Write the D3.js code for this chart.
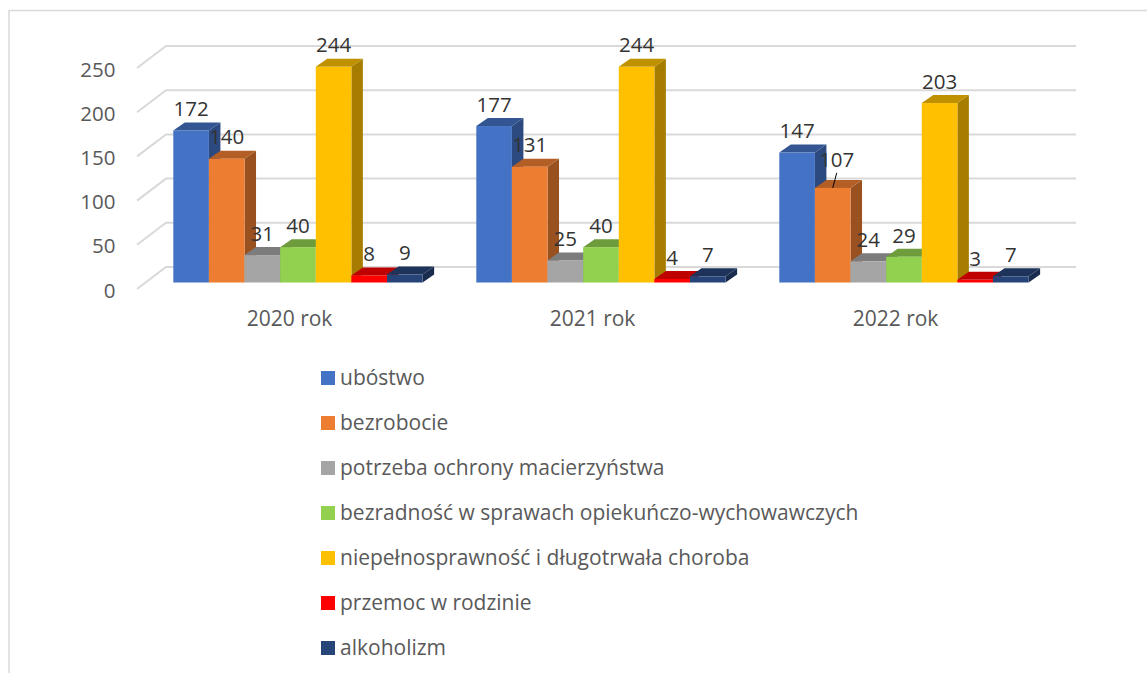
<!DOCTYPE html>
<html lang="pl">
<head>
  <meta charset="UTF-8">
  <title>Powody przyznania pomocy</title>
  <style>
    body { margin: 0; background: #fff; }
    svg { display: block; font-family: "Open Sans", sans-serif; }
  </style>
</head>
<body>
  <div id="chart"></div>

  <script src="https://d3js.org/d3.v7.min.js"></script>
  <script>
    // Values
    const years = ['2020 rok', '2021 rok', '2022 rok'];
    const seriesNames = [
      'ubóstwo',
      'bezrobocie',
      'potrzeba ochrony macierzyństwa',
      'bezradność w sprawach opiekuńczo-wychowawczych',
      'niepełnosprawność i długotrwała choroba',
      'przemoc w rodzinie',
      'alkoholizm'
    ];
    const ubostwo = [172, 177, 147];
    const bezrobocie = [140, 131, 107];
    const macierzynstwo = [31, 25, 24];
    const bezradnosc = [40, 40, 29];
    const niepelnosprawnosc = [244, 244, 203];
    const przemoc = [8, 4, 3];
    const alkoholizm = [9, 7, 7];
    const colors = ['#4472c4', '#ed7d31', '#a5a5a5', '#92d050', '#ffc000', '#ff0000', '#264478'];
    const yTicks = [0, 50, 100, 150, 200, 250];

    const allValues = [ubostwo, bezrobocie, macierzynstwo, bezradnosc, niepelnosprawnosc, przemoc, alkoholizm];

    const width = 1147;
    const height = 673;

    const svg = d3.select('#chart')
      .append('svg')
      .attr('width', width)
      .attr('height', height);

    // Frame, cut off by the right and bottom of the picture
    svg.append('path')
      .attr('d', `M9,${height}V10.5H${width}`)
      .attr('fill', 'none')
      .attr('stroke', '#d9d9d9')
      .attr('stroke-width', 1.5);

    // Scales
    const x = d3.scaleBand().domain(years).range([137, 1046]);
    const xInner = d3.scaleBand().domain(seriesNames).range([36.3, 285.6]);
    const y = d3.scaleLinear().domain([0, 250]).range([282.5, 61.5]);

    // 3D offsets
    const barDx = 11.5;
    const barDy = 8;
    const wallDx = 29;
    const wallUp = 15.5;
    const floorDown = 6.5;

    // Walls: gridlines on the back, then slanted on the left side
    const grid = svg.append('g')
      .attr('fill', 'none')
      .attr('stroke', '#d9d9d9')
      .attr('stroke-width', 2);
    const gridLine = d3.line();
    grid.selectAll('path')
      .data(yTicks)
      .join('path')
      .attr('d', (d) => gridLine([
        [x.range()[0], y(d) + floorDown],
        [x.range()[0] + wallDx, y(d) - wallUp],
        [x.range()[1] + wallDx + 1, y(d) - wallUp]
      ]));

    // Y axis
    const yAxis = svg.append('g')
      .attr('transform', `translate(115.5, ${floorDown + 1.5})`)
      .call(d3.axisLeft(y).tickValues(yTicks).tickSize(0).tickPadding(0));
    yAxis.select('.domain').remove();
    yAxis.selectAll('text')
      .attr('fill', '#595959')
      .style('font-family', '"Open Sans", sans-serif')
      .style('font-size', '20.5px');

    // X axis labels
    const xAxis = svg.append('g')
      .attr('transform', 'translate(1, 319)')
      .call(d3.axisBottom(x).tickSize(0).tickPadding(0));
    xAxis.select('.domain').remove();
    xAxis.selectAll('text')
      .attr('y', 0)
      .attr('dy', '0.35em')
      .attr('fill', '#595959')
      .style('font-family', '"Open Sans", sans-serif')
      .style('font-size', '21px');

    const shade = (color, k) => {
      const c = d3.rgb(color);
      return d3.rgb(c.r * k, c.g * k, c.b * k).formatHex();
    };

    const polygon = (points) => d3.line()(points) + 'Z';

    // Bars, left to right so each front covers the side of the one before
    years.forEach((year, i) => {
      const group = svg.append('g').attr('transform', `translate(${x(year)}, 0)`);
      seriesNames.forEach((name, s) => {
        const x0 = xInner(name);
        const x1 = x0 + xInner.bandwidth();
        const top = y(allValues[s][i]);
        const base = y(0);

        group.append('path')
          .attr('fill', shade(colors[s], 0.65))
          .attr('d', polygon([[x1, top], [x1 + barDx, top - barDy], [x1 + barDx, base - barDy], [x1, base]]));
        group.append('path')
          .attr('fill', shade(colors[s], 0.75))
          .attr('d', polygon([[x0, top], [x0 + barDx, top - barDy], [x1 + barDx, top - barDy], [x1, top]]));
        group.append('rect')
          .attr('x', x0)
          .attr('y', top)
          .attr('width', xInner.bandwidth())
          .attr('height', base - top)
          .attr('fill', colors[s]);
      });
    });

    // Data labels on top of everything
    const labelGap = 21.5;
    const labels = svg.append('g')
      .attr('text-anchor', 'middle')
      .attr('fill', '#333')
      .style('font-size', '20.5px');

    years.forEach((year, i) => {
      seriesNames.forEach((name, s) => {
        const value = allValues[s][i];
        const cx = x(year) + xInner(name) + xInner.bandwidth() / 2;
        const cy = y(value) - labelGap;
        // 107 was pulled away from its bar by hand, with a leader line
        const moved = s === 1 && i === 2;
        labels.append('text')
          .attr('x', moved ? cx + 4 : cx)
          .attr('y', moved ? cy - 7 : cy)
          .attr('dy', '0.35em')
          .text(value);
        if (moved) {
          svg.append('line')
            .attr('x1', cx + 4)
            .attr('y1', y(value) - 15)
            .attr('x2', cx)
            .attr('y2', y(value))
            .attr('stroke', '#000')
            .attr('stroke-width', 1);
        }
      });
    });

    // Legend
    const legendY = d3.scalePoint().domain(seriesNames).range([378, 648]);
    const legend = svg.append('g');
    legend.selectAll('rect')
      .data(seriesNames)
      .join('rect')
      .attr('x', 321)
      .attr('y', (d) => legendY(d) - 7)
      .attr('width', 14)
      .attr('height', 14)
      .attr('fill', (d, i) => colors[i]);
    legend.selectAll('text')
      .data(seriesNames)
      .join('text')
      .attr('x', 340)
      .attr('y', (d) => legendY(d))
      .attr('dy', '0.35em')
      .attr('fill', '#595959')
      .style('font-size', '21px')
      .text((d) => d);
  </script>
</body>
</html>
